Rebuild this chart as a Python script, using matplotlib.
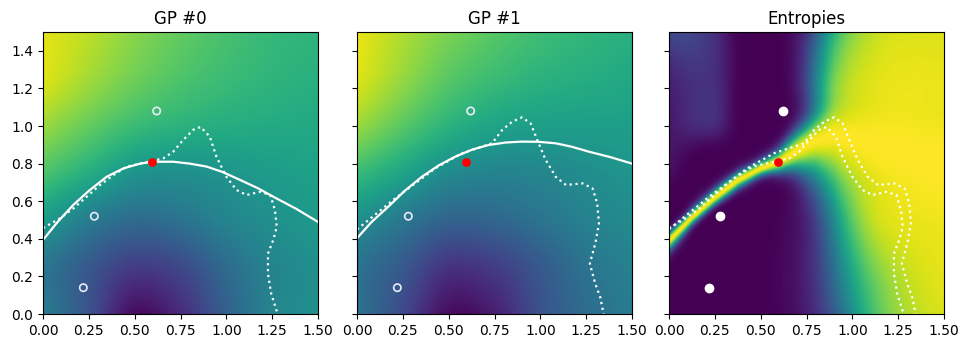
import math
import numpy as np
import matplotlib
matplotlib.use("Agg")
import matplotlib.pyplot as plt

# ---------------- data ----------------
grid_x = [0.0, 0.25, 0.5, 0.75, 1.0, 1.25, 1.5]
grid_y = [0.0, 0.25, 0.5, 0.75, 1.0, 1.25, 1.5]

# GP posterior means (normalised colour value), rows = y, cols = x
gp0_mean = [
    [0.42, 0.25, 0.03, 0.12, 0.30, 0.45, 0.50],
    [0.40, 0.28, 0.18, 0.22, 0.35, 0.45, 0.50],
    [0.55, 0.42, 0.35, 0.38, 0.45, 0.50, 0.54],
    [0.72, 0.62, 0.52, 0.50, 0.52, 0.55, 0.57],
    [0.85, 0.76, 0.68, 0.64, 0.62, 0.61, 0.60],
    [0.95, 0.86, 0.78, 0.72, 0.68, 0.65, 0.63],
    [0.96, 0.90, 0.82, 0.76, 0.71, 0.67, 0.65],
]
gp1_mean = [
    [0.38, 0.22, 0.03, 0.08, 0.25, 0.35, 0.42],
    [0.38, 0.28, 0.15, 0.18, 0.28, 0.38, 0.44],
    [0.50, 0.40, 0.32, 0.33, 0.38, 0.44, 0.48],
    [0.68, 0.58, 0.48, 0.45, 0.46, 0.49, 0.52],
    [0.85, 0.74, 0.64, 0.58, 0.56, 0.56, 0.56],
    [0.95, 0.84, 0.74, 0.68, 0.64, 0.62, 0.60],
    [0.97, 0.88, 0.80, 0.74, 0.69, 0.66, 0.63],
]
# predictive standard deviation of the boundary margin, rows = y, cols = x
sigma_grid = [
    [0.110, 0.170, 0.220, 0.390, 0.76, 1.45, 2.17],
    [0.040, 0.100, 0.150, 0.290, 0.66, 1.29, 1.90],
    [0.030, 0.025, 0.070, 0.180, 0.55, 1.30, 1.20],
    [0.160, 0.036, 0.025, 0.110, 0.40, 0.80, 1.00],
    [0.250, 0.190, 0.050, 0.085, 0.33, 0.80, 1.00],
    [0.380, 0.310, 0.110, 0.200, 0.70, 1.50, 1.80],
    [0.640, 0.430, 0.180, 0.300, 0.85, 1.75, 2.00],
]
# ridge of maximal entropy
ridge_x = [0.0, 0.125, 0.25, 0.375, 0.5, 0.6, 0.65, 0.7, 0.8, 0.9, 1.0, 1.25, 1.5]
ridge_y = [0.39, 0.515, 0.62, 0.712, 0.775, 0.81, 0.84, 0.87, 0.92, 0.95, 0.94, 0.87, 0.78]

# estimated boundaries (white solid)
est0_x = [0.0, 0.08, 0.165, 0.25, 0.347, 0.44, 0.53, 0.60, 0.71, 0.80, 0.893, 0.98,
          1.075, 1.17, 1.256, 1.38, 1.5]
est0_y = [0.394, 0.49, 0.58, 0.655, 0.73, 0.775, 0.80, 0.81, 0.81, 0.80, 0.784, 0.755,
          0.713, 0.67, 0.624, 0.56, 0.49]
est1_x = [0.0, 0.08, 0.171, 0.26, 0.354, 0.445, 0.536, 0.63, 0.718, 0.81, 0.9, 0.99,
          1.084, 1.17, 1.266, 1.38, 1.5]
est1_y = [0.403, 0.49, 0.571, 0.655, 0.73, 0.79, 0.837, 0.875, 0.899, 0.912, 0.917, 0.916,
          0.908, 0.89, 0.863, 0.835, 0.80]

# true boundaries (white dotted)
true0_x = [0.0, 0.093, 0.166, 0.238, 0.311, 0.384, 0.457, 0.53, 0.60, 0.656, 0.71, 0.765,
           0.82, 0.86, 0.91, 0.946, 1.0, 1.055, 1.11, 1.185, 1.24, 1.265, 1.275, 1.256,
           1.227, 1.227, 1.245, 1.28]
true0_y = [0.457, 0.509, 0.562, 0.624, 0.686, 0.739, 0.784, 0.80, 0.815, 0.828, 0.863, 0.926,
           0.98, 0.995, 0.943, 0.837, 0.73, 0.66, 0.633, 0.65, 0.633, 0.553, 0.464, 0.394,
           0.321, 0.214, 0.107, 0.0]
true1_x = [0.0, 0.208, 0.427, 0.573, 0.737, 0.792, 0.847, 0.9, 0.947, 0.983, 1.029, 1.084,
           1.14, 1.23, 1.285, 1.31, 1.32, 1.30, 1.27, 1.30, 1.327, 1.345]
true1_y = [0.45, 0.615, 0.775, 0.855, 0.908, 0.979, 1.023, 1.046, 1.014, 0.926, 0.82, 0.73,
           0.686, 0.695, 0.668, 0.589, 0.482, 0.376, 0.268, 0.16, 0.089, 0.0]

# observed points
obs_x = [0.22, 0.28, 0.62]
obs_y = [0.14, 0.52, 1.08]
query_x = [0.595]
query_y = [0.81]

# ---------------- helpers ----------------
def cr_matrix(coarse, fine):
    coarse = np.asarray(coarse, float)
    n = len(coarse)
    h = coarse[1] - coarse[0]
    W = np.zeros((len(fine), n))
    for i, u in enumerate(fine):
        s = (u - coarse[0]) / h
        k = int(min(max(np.floor(s), 0), n - 2))
        t = s - k
        ws = [0.5 * (-t + 2 * t**2 - t**3),
              0.5 * (2 - 5 * t**2 + 3 * t**3),
              0.5 * (t + 4 * t**2 - 3 * t**3),
              0.5 * (-t**2 + t**3)]
        for off, w in zip((-1, 0, 1, 2), ws):
            j = k + off
            if j < 0:
                W[i, 0] += 2 * w
                W[i, 1] -= w
            elif j > n - 1:
                W[i, n - 1] += 2 * w
                W[i, n - 2] -= w
            else:
                W[i, j] += w
    return W


def pchip1d(xk, yk, xq):
    xk = np.asarray(xk, float)
    yk = np.asarray(yk, float)
    n = len(xk)
    h = np.diff(xk)
    delta = np.diff(yk) / h
    d = np.zeros(n)
    for k in range(1, n - 1):
        if delta[k - 1] * delta[k] > 0:
            w1 = 2 * h[k] + h[k - 1]
            w2 = h[k] + 2 * h[k - 1]
            d[k] = (w1 + w2) / (w1 / delta[k - 1] + w2 / delta[k])
    def end(h0, h1, d0, d1):
        v = ((2 * h0 + h1) * d0 - h0 * d1) / (h0 + h1)
        if np.sign(v) != np.sign(d0):
            v = 0.0
        elif np.sign(d0) != np.sign(d1) and abs(v) > 3 * abs(d0):
            v = 3 * d0
        return v
    d[0] = end(h[0], h[1], delta[0], delta[1])
    d[-1] = end(h[-1], h[-2], delta[-1], delta[-2])
    idx = np.clip(np.searchsorted(xk, xq) - 1, 0, n - 2)
    t = (xq - xk[idx]) / h[idx]
    h00 = 2 * t**3 - 3 * t**2 + 1
    h10 = t**3 - 2 * t**2 + t
    h01 = -2 * t**3 + 3 * t**2
    h11 = t**3 - t**2
    return (h00 * yk[idx] + h10 * h[idx] * d[idx]
            + h01 * yk[idx + 1] + h11 * h[idx] * d[idx + 1])


def blur(a, sd):
    r = int(3 * sd)
    k = np.exp(-0.5 * (np.arange(-r, r + 1) / sd) ** 2)
    k /= k.sum()
    pad = np.pad(a, r, mode="edge")
    tmp = np.apply_along_axis(lambda v: np.convolve(v, k, mode="valid"), 1, pad)
    return np.apply_along_axis(lambda v: np.convolve(v, k, mode="valid"), 0, tmp)


N = 320
fx = np.linspace(0, 1.5, N)
fy = np.linspace(0, 1.5, N)
Wx = cr_matrix(grid_x, fx)
Wy = cr_matrix(grid_y, fy)

def field(grid):
    return Wy @ np.asarray(grid, float) @ Wx.T

def field_mono(grid):
    g = np.asarray(grid, float)
    rows = np.array([pchip1d(grid_x, r, fx) for r in g])          # (7, N)
    return np.array([pchip1d(grid_y, rows[:, j], fy) for j in range(N)]).T

f0 = field(gp0_mean)
f1 = field(gp1_mean)
log_sig = blur(field_mono(np.log(np.asarray(sigma_grid))), 9.0)
sig = np.exp(log_sig)
X, Y = np.meshgrid(fx, fy)
margin = Y - np.interp(X, ridge_x, ridge_y)
z = margin / sig
erf = np.vectorize(math.erf)
p = 0.5 * (1 + erf(z / math.sqrt(2)))
p = np.clip(p, 1e-12, 1 - 1e-12)
ent = -(p * np.log2(p) + (1 - p) * np.log2(1 - p))

# ---------------- figure ----------------
fig = plt.figure(figsize=(9.6, 3.38), dpi=100)
W_, H_ = 960.0, 338.0
lefts = [43, 357, 669]
axw, top, bot = 275, 32, 314
axes = []
for i, l in enumerate(lefts):
    ax = fig.add_axes([l / W_, 1 - bot / H_, axw / W_, (bot - top) / H_],
                      sharey=axes[0] if axes else None)
    axes.append(ax)

ext = (0, 1.5, 0, 1.5)
panels = [(f0, "GP #0", est0_x, est0_y, [(true0_x, true0_y)]),
          (f1, "GP #1", est1_x, est1_y, [(true1_x, true1_y)]),
          (ent, "Entropies", None, None, [(true0_x, true0_y), (true1_x, true1_y)])]

for ax, (img, title, ex, ey, trues) in zip(axes, panels):
    ax.imshow(img, origin="lower", extent=ext, cmap="viridis", vmin=0, vmax=1,
              aspect="auto", interpolation="bilinear")
    for tx, ty in trues:
        ax.plot(tx, ty, color="white", linestyle=":", lw=1.6)
    if ex is not None:
        ax.plot(ex, ey, color="white", lw=1.6)
        ax.scatter(obs_x, obs_y, s=28, facecolors="none", edgecolors="#e8ecf8",
                   linewidths=1.2, zorder=3)
    else:
        ax.scatter(obs_x, obs_y, s=36, color="white", zorder=3)
    ax.scatter(query_x, query_y, s=28, color="red", zorder=4)
    ax.set_title(title, fontsize=12)
    ax.set_xlim(0, 1.5)
    ax.set_ylim(0, 1.5)
    ax.set_xticks([0, 0.25, 0.5, 0.75, 1.0, 1.25, 1.5])
    ax.set_xticklabels(["0.00", "0.25", "0.50", "0.75", "1.00", "1.25", "1.50"])
    ax.set_yticks([0, 0.2, 0.4, 0.6, 0.8, 1.0, 1.2, 1.4])

for ax in axes[1:]:
    ax.tick_params(labelleft=False)

fig.savefig("out.png", dpi=100)
